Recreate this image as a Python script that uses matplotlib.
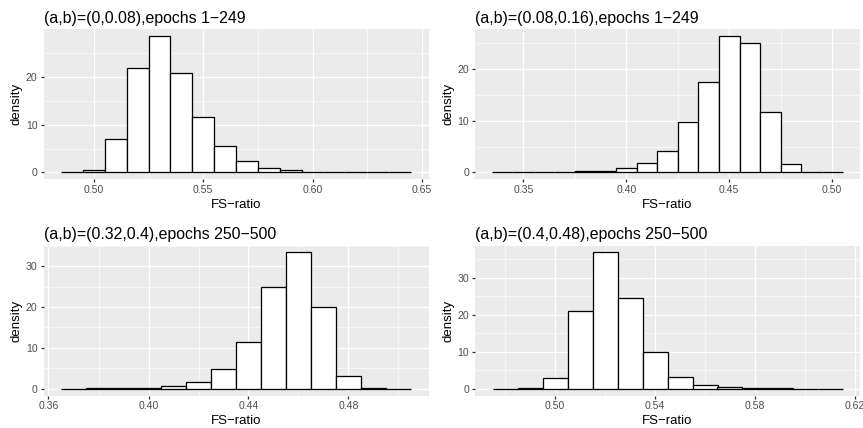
import numpy as np
import matplotlib
matplotlib.use("Agg")
import matplotlib.pyplot as plt
from matplotlib.ticker import FixedLocator

plt.rcParams['font.family'] = ['Liberation Sans', 'DejaVu Sans']

# ---- data: bin centers (bin width 0.01) and densities ----
bin_width = 0.01

p1_centers = [0.49, 0.50, 0.51, 0.52, 0.53, 0.54, 0.55, 0.56, 0.57, 0.58, 0.59, 0.60, 0.61, 0.62, 0.63, 0.64]
p1_density = [0.1, 0.6, 7.1, 21.8, 28.5, 20.8, 11.7, 5.5, 2.4, 1.0, 0.5, 0.2, 0.1, 0.05, 0.02, 0.02]

p2_centers = [0.34, 0.35, 0.36, 0.37, 0.38, 0.39, 0.40, 0.41, 0.42, 0.43, 0.44, 0.45, 0.46, 0.47, 0.48, 0.49, 0.50]
p2_density = [0.02, 0.02, 0.05, 0.1, 0.2, 0.3, 0.85, 1.9, 4.2, 9.8, 17.6, 26.4, 25.1, 11.75, 1.7, 0.1, 0.02]

p3_centers = [0.37, 0.38, 0.39, 0.40, 0.41, 0.42, 0.43, 0.44, 0.45, 0.46, 0.47, 0.48, 0.49, 0.50]
p3_density = [0.02, 0.05, 0.1, 0.2, 0.55, 1.55, 4.75, 11.55, 24.8, 33.4, 20.0, 3.0, 0.1, 0.02]

p4_centers = [0.48, 0.49, 0.50, 0.51, 0.52, 0.53, 0.54, 0.55, 0.56, 0.57, 0.58, 0.59, 0.60, 0.61]
p4_density = [0.02, 0.15, 2.9, 21.1, 36.9, 24.5, 9.8, 3.2, 1.0, 0.35, 0.15, 0.05, 0.03, 0.02]

titles = ["(a,b)=(0,0.08),epochs 1\u2212249",
          "(a,b)=(0.08,0.16),epochs 1\u2212249",
          "(a,b)=(0.32,0.4),epochs 250\u2212500",
          "(a,b)=(0.4,0.48),epochs 250\u2212500"]

x_ticks = [[0.50, 0.55, 0.60, 0.65],
           [0.35, 0.40, 0.45, 0.50],
           [0.36, 0.40, 0.44, 0.48],
           [0.50, 0.54, 0.58, 0.62]]
y_ticks = [[0, 10, 20], [0, 10, 20], [0, 10, 20, 30], [0, 10, 20, 30]]

panels = [(p1_centers, p1_density), (p2_centers, p2_density),
          (p3_centers, p3_density), (p4_centers, p4_density)]

# ---- layout (pixels) ----
W, H = 863, 428
DPI = 86.4
fig = plt.figure(figsize=(W / DPI, H / DPI), dpi=DPI)
fig.patch.set_facecolor('white')

boxes = [(43.5, 29.3, 385, 150), (475, 29.3, 385, 150),
         (43.5, 245.5, 385, 150), (475, 245.5, 385, 150)]

grey30 = '#4D4D4D'
grey20 = '#333333'
lw = 1.07  # ggplot 0.5 linewidth in points

for i, ((centers, dens), (l, t, w, h)) in enumerate(zip(panels, boxes)):
    ax = fig.add_axes([l / W, 1 - (t + h) / H, w / W, h / H])
    ax.set_facecolor('#EBEBEB')
    for s in ax.spines.values():
        s.set_visible(False)
    ax.set_axisbelow(True)

    centers = np.asarray(centers)
    dens = np.asarray(dens)
    ax.bar(centers, dens, width=bin_width, color='white', edgecolor='black',
           linewidth=lw, zorder=3)

    xmin = centers.min() - bin_width / 2
    xmax = centers.max() + bin_width / 2
    xr = xmax - xmin
    ax.set_xlim(xmin - 0.05 * xr, xmax + 0.05 * xr)
    ymax = dens.max()
    ax.set_ylim(-0.05 * ymax, 1.05 * ymax)

    xt = x_ticks[i]
    yt = y_ticks[i]
    ax.set_xticks(xt)
    ax.set_yticks(yt)
    step = xt[1] - xt[0]
    xminor = [xt[0] - step / 2] + [v + step / 2 for v in xt]
    ax.xaxis.set_minor_locator(FixedLocator(xminor))
    ystep = yt[1] - yt[0]
    ax.yaxis.set_minor_locator(FixedLocator([v + ystep / 2 for v in yt]))
    ax.set_xticklabels([f"{v:.2f}" for v in xt])
    ax.set_yticklabels([str(v) for v in yt])

    ax.grid(which='major', color='white', linewidth=lw)
    ax.grid(which='minor', color='white', linewidth=lw / 2)
    ax.tick_params(which='major', direction='out', length=2.75, width=lw,
                   color=grey20, labelsize=8.8, labelcolor=grey30, pad=2.2)
    ax.tick_params(which='minor', length=0)

    ax.set_xlabel("FS\u2212ratio", fontsize=11, labelpad=2.75, color='black')
    ax.set_ylabel("density", fontsize=11, labelpad=2.75, color='black')
    ax.set_title(titles[i], loc='left', fontsize=13.2, pad=5.5, color='black')

fig.savefig("out.png", dpi=DPI, facecolor='white')
